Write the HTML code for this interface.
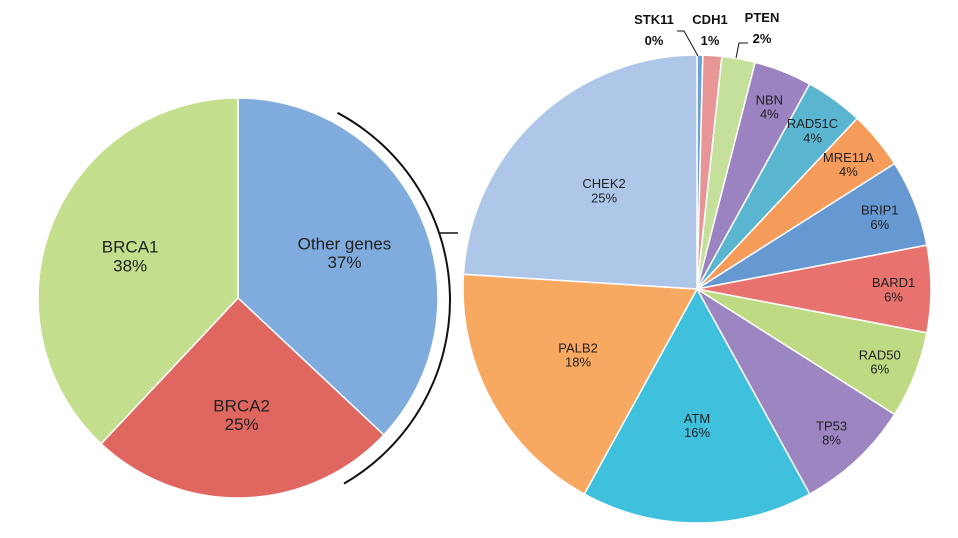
<!DOCTYPE html>
<html><head><meta charset="utf-8"><style>
body{margin:0;background:#fff}
svg{display:block;font-family:"Liberation Sans",Arial,sans-serif}
</style></head><body>
<svg width="958" height="538" viewBox="0 0 958 538">
<g id="left"></g>
<g id="right"></g>
<path id="bracket" fill="none" stroke="#111" stroke-width="2"/>
<line x1="440" y1="233" x2="458" y2="233" stroke="#111" stroke-width="1.5"/>
<g font-size="13" font-weight="bold" text-anchor="middle" fill="#111">
<text x="654" y="24">STK11</text>
<text x="654" y="45">0%</text>
<text x="710" y="24">CDH1</text>
<text x="710" y="45">1%</text>
<text x="762" y="22">PTEN</text>
<text x="762" y="43">2%</text>
</g>
<polyline points="677,31 684,31 698,56" fill="none" stroke="#111" stroke-width="1"/>
<polyline points="748,43 739,43 736,58" fill="none" stroke="#111" stroke-width="1"/>
</svg>
<script>
const leftCats=["Other genes","BRCA2","BRCA1"];
const leftVals=[37,25,38];
const leftColors=["#7facdc","#e06660","#c3de8d"];
const rightCats=["STK11","CDH1","PTEN","NBN","RAD51C","MRE11A","BRIP1","BARD1","RAD50","TP53","ATM","PALB2","CHEK2"];
const rightVals=[0.4,1.3,2.3,4,4,4,6,6,6,8,16,18,24];
const rightLabels=["0%","1%","2%","4%","4%","4%","6%","6%","6%","8%","16%","18%","25%"];
const rightColors=["#6fa1d8","#e89595","#c4e09a","#9a83c0","#5ab5d0","#f59c5a","#6698d1","#e8726d","#bedb84","#9b86c2","#3fc1de","#f7a962","#aec7e8"];
const NS="http://www.w3.org/2000/svg";
function pt(cx,cy,r,a){return [cx+r*Math.sin(a),cy-r*Math.cos(a)];}
function pie(g,cx,cy,r,cats,vals,colors,labels,fs,inside){
  const tot=vals.reduce((a,b)=>a+b,0);let acc=0;
  cats.forEach((c,i)=>{
    const a0=acc/tot*2*Math.PI;acc+=vals[i];const a1=acc/tot*2*Math.PI;
    const p0=pt(cx,cy,r,a0),p1=pt(cx,cy,r,a1);
    const p=document.createElementNS(NS,"path");
    p.setAttribute("d",`M${cx},${cy}L${p0[0]},${p0[1]}A${r},${r} 0 ${a1-a0>Math.PI?1:0} 1 ${p1[0]},${p1[1]}Z`);
    p.setAttribute("fill",colors[i]);p.setAttribute("stroke","#fff");p.setAttribute("stroke-width","1.5");
    
    
    g.appendChild(p);
    if(!inside(i))return;
    const am=(a0+a1)/2;const f=vals[i]/tot>0.12?0.58:0.84;
    const m=pt(cx,cy,r*f,am);
    [c,labels[i]].forEach((s,k)=>{
      const t=document.createElementNS(NS,"text");
      t.setAttribute("x",m[0]);t.setAttribute("y",m[1]+(k?fs*0.95:-fs*0.15));
      t.setAttribute("text-anchor","middle");t.setAttribute("font-size",fs);t.setAttribute("fill","#222");
      
      
      t.textContent=s;g.appendChild(t);
    });
  });
}
pie(document.getElementById("left"),238,298,200,leftCats,leftVals,leftColors,leftVals.map(v=>v+"%"),17,()=>true);
pie(document.getElementById("right"),697,289,234,rightCats,rightVals,rightColors,rightLabels,13,i=>i>2);
(function(){const cx=238,cy=300,r=212;const a0=28*Math.PI/180,a1=150*Math.PI/180;
const p0=pt(cx,cy,r,a0),p1=pt(cx,cy,r,a1);
document.getElementById("bracket").setAttribute("d",`M${p0[0]},${p0[1]}A${r},${r} 0 0 1 ${p1[0]},${p1[1]}`);})();
</script>
</body></html>
